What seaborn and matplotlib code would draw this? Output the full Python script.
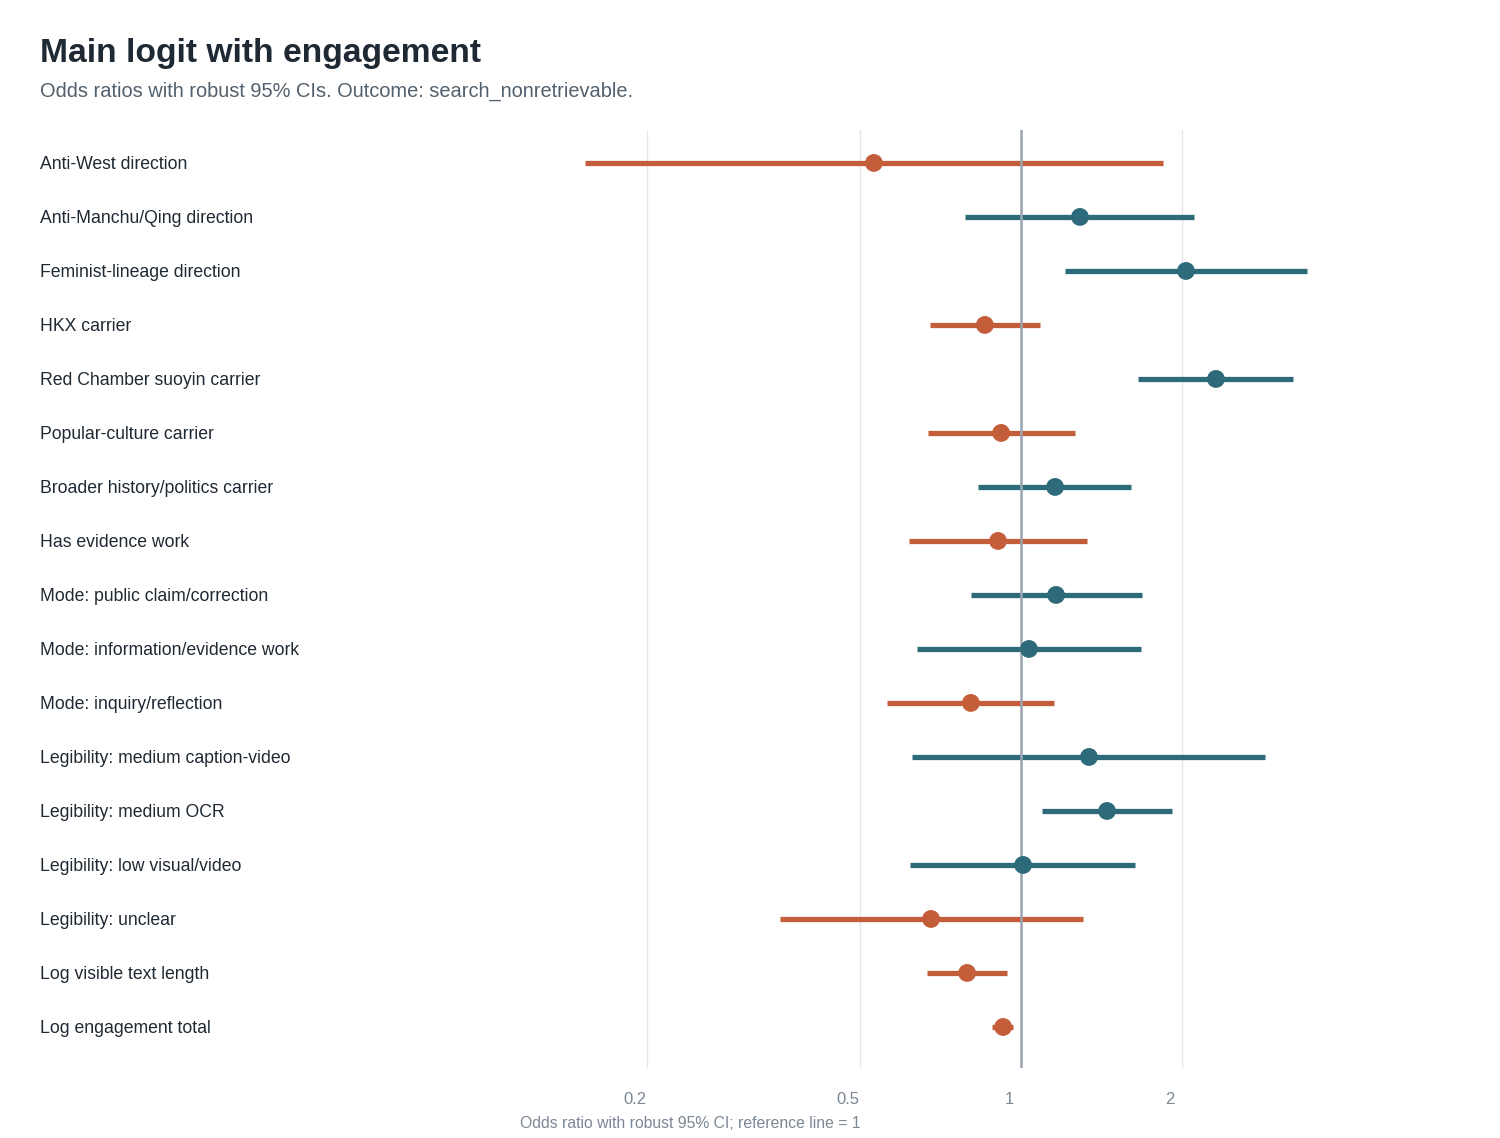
import numpy as np
import pandas as pd
import matplotlib
matplotlib.use('Agg')
import matplotlib.pyplot as plt
from matplotlib.transforms import ScaledTranslation
import seaborn as sns

# terms, top to bottom
terms = ['Anti-West direction', 'Anti-Manchu/Qing direction', 'Feminist-lineage direction',
         'HKX carrier', 'Red Chamber suoyin carrier', 'Popular-culture carrier',
         'Broader history/politics carrier', 'Has evidence work', 'Mode: public claim/correction',
         'Mode: information/evidence work', 'Mode: inquiry/reflection',
         'Legibility: medium caption-video', 'Legibility: medium OCR',
         'Legibility: low visual/video', 'Legibility: unclear', 'Log visible text length',
         'Log engagement total']
odds_ratio = [0.531, 1.289, 2.034, 0.856, 2.314, 0.918, 1.158, 0.906, 1.163,
              1.035, 0.806, 1.340, 1.448, 1.009, 0.679, 0.793, 0.926]
ci_low  = [0.153, 0.786, 1.208, 0.676, 1.654, 0.670, 0.831, 0.618, 0.806,
           0.639, 0.562, 0.626, 1.094, 0.620, 0.354, 0.667, 0.883]
ci_high = [1.843, 2.106, 3.424, 1.085, 3.224, 1.262, 1.606, 1.328, 1.684,
           1.676, 1.152, 2.858, 1.915, 1.633, 1.306, 0.942, 0.966]
x_ticks = [0.2, 0.5, 1, 2]

df = pd.DataFrame({'term': terms, 'or': odds_ratio, 'lo': ci_low, 'hi': ci_high})
df['pos'] = np.arange(len(df))
df['direction'] = np.where(df['or'] < 1, 'lower', 'higher')
palette = {'lower': '#c45e3a', 'higher': '#2e6b7a'}

sns.set_theme(style='white')
plt.rcParams['font.family'] = ['Liberation Sans', 'DejaVu Sans']

fig = plt.figure(figsize=(15, 11.38), dpi=100)
ax = fig.add_axes([40/1500, 70/1138, 1300/1500, 938/1138])

# CI bars
for c in ['lower', 'higher']:
    sub = df[df['direction'] == c]
    ax.hlines(sub['pos'], sub['lo'], sub['hi'], color=palette[c], lw=3.8, zorder=2)

ax.axvline(1, color='#9aa5b1', lw=1.8, zorder=2.5)

sns.scatterplot(data=df, x='or', y='pos', hue='direction', palette=palette,
                s=165, linewidth=0, legend=False, ax=ax, zorder=3)

ax.set_xscale('log')
ax.set_xlim(0.01467, 3.947)
ax.set_ylim(16.76, -0.61)
ax.set_xticks(x_ticks)
ax.set_xticklabels(['0.2', '0.5', '1', '2'])
ax.minorticks_off()
ax.grid(axis='x', color='#e4e7eb', lw=1, zorder=0)
ax.grid(axis='y', visible=False)
ax.set_yticks(df['pos'])
ax.set_yticklabels(df['term'])
ax.tick_params(axis='y', length=0, pad=0, labelsize=12.7, labelcolor='#1f2933')
ax.tick_params(axis='x', length=0, pad=17, labelsize=12, labelcolor='#7b8794')
for lbl in ax.get_yticklabels():
    lbl.set_ha('left')
for lbl in ax.get_xticklabels():
    lbl.set_transform(lbl.get_transform() + ScaledTranslation(-0.12, 0, fig.dpi_scale_trans))
ax.set_xlabel('')
ax.set_ylabel('')
sns.despine(ax=ax, left=True, bottom=True)

fig.text(40/1500, 1 - 62/1138, 'Main logit with engagement', fontsize=24.2,
         fontweight='bold', color='#1f2933', va='baseline')
fig.text(40/1500, 1 - 97/1138, 'Odds ratios with robust 95% CIs. Outcome: search_nonretrievable.',
         fontsize=14.4, color='#52606d', va='baseline')
fig.text(690/1500, 1 - 1123/1138, 'Odds ratio with robust 95% CI; reference line = 1',
         fontsize=11.3, color='#7b8794', ha='center', va='center')

fig.savefig('out.png', dpi=100, facecolor='white')
